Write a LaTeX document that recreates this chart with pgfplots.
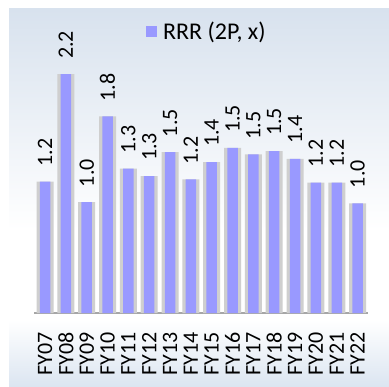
\documentclass[border=0pt]{standalone}
\usepackage{fontspec}
\setmainfont{Carlito}
\usepackage{pgfplots}
\usepackage{pgfplotstable}
\pgfplotsset{compat=1.18}

\definecolor{barc}{HTML}{9999FF}
\definecolor{shadowc}{HTML}{CFCFCF}
\definecolor{ptop}{HTML}{D8E2EE}
\definecolor{pbot}{HTML}{DBE5F1}

% Reserve replacement ratio (2P), by fiscal year
\pgfplotstableread{
idx year rrr
0  FY07 1.21
1  FY08 2.20
2  FY09 1.02
3  FY10 1.81
4  FY11 1.33
5  FY12 1.26
6  FY13 1.48
7  FY14 1.23
8  FY15 1.39
9  FY16 1.52
10 FY17 1.46
11 FY18 1.49
12 FY19 1.42
13 FY20 1.20
14 FY21 1.20
15 FY22 1.01
}\rrrdata

\newcommand{\chartfont}{\fontsize{22bp}{24bp}\selectfont}
\newcommand{\legendfont}{\fontsize{24bp}{26bp}\selectfont}

\begin{document}
\begin{tikzpicture}
\useasboundingbox (0bp,0bp) rectangle (389bp,387bp);
% panel background
\fill[top color=ptop, bottom color=white] (9bp,156.5bp) rectangle (389bp,378bp);
\fill[white] (9bp,66.5bp) rectangle (389bp,157bp);
\fill[top color=white, bottom color=pbot] (9bp,0bp) rectangle (389bp,67bp);

\begin{axis}[
  at={(34bp,74bp)}, anchor=south west,
  scale only axis, width=334bp, height=282.4bp,
  xmin=-0.53, xmax=15.5, ymin=0, ymax=2.6,
  axis x line=bottom, axis y line=none,
  axis line style={-, draw=gray!70, line width=1.5bp},
  xtick={0,...,15},
  xticklabels={FY07,FY08,FY09,FY10,FY11,FY12,FY13,FY14,FY15,FY16,FY17,FY18,FY19,FY20,FY21,FY22},
  major tick length=0pt,
  xticklabel shift=16bp,
  xticklabel style={rotate=90, anchor=east, font=\chartfont, text=black},
  clip=false,
  /pgf/number format/assume math mode=true,
  /pgf/number format/fixed,
  /pgf/number format/fixed zerofill,
  /pgf/number format/precision=1,
  legend style={draw=none, fill=none, at={(axis description cs:0.335,0.997)},
    anchor=west, inner sep=0pt, font=\legendfont},
  legend image code/.code={\fill[barc] (0bp,-5.5bp) rectangle (11bp,5.5bp);
    \path (15bp,0bp);},
]
% soft grey halo behind each bar
\addplot[ybar, bar width=17bp, bar shift=0pt, fill=shadowc, draw=none, forget plot]
  table[x=idx, y=rrr] {\rrrdata};
\addplot[ybar, bar width=10.5bp, bar shift=0pt, fill=barc, draw=none,
  nodes near coords,
  every node near coord/.append style={rotate=90, anchor=west, inner xsep=15bp,
    font=\chartfont, text=black}]
  table[x=idx, y=rrr] {\rrrdata};
\addlegendentry{RRR (2P, x)}
\end{axis}
\end{tikzpicture}
\end{document}
